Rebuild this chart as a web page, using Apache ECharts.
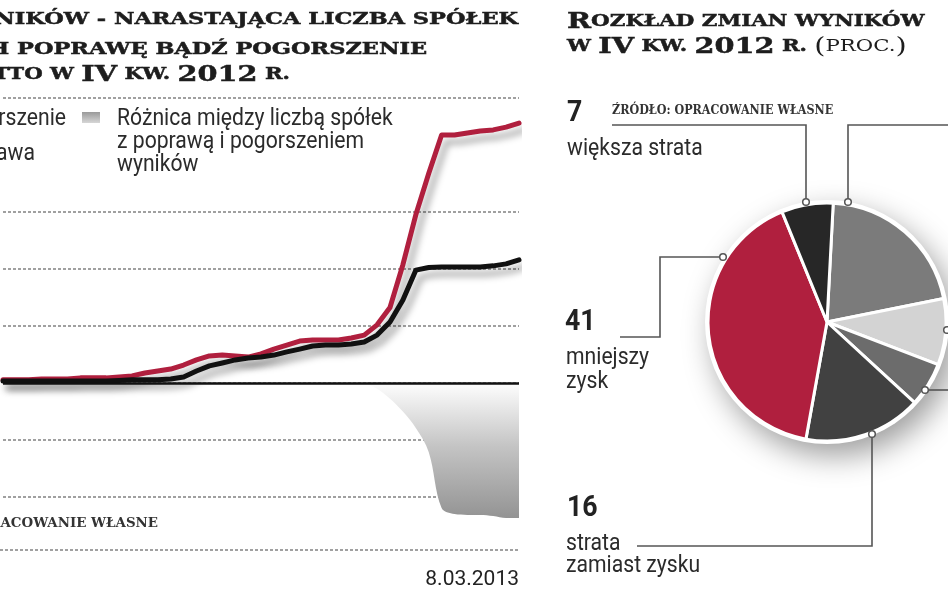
<!DOCTYPE html>
<html><head><meta charset="utf-8">
<script src="https://cdn.jsdelivr.net/npm/echarts@6/dist/echarts.min.js"></script>
<style>html,body{margin:0;padding:0;background:#fff}#c{width:948px;height:593px}</style>
</head><body><div id="c"></div>
<script>
// ---- data ----
const dates = ['27.01.2013','28.01.2013','29.01.2013','30.01.2013','31.01.2013',
  '1.02.2013','2.02.2013','3.02.2013','4.02.2013','5.02.2013','6.02.2013','7.02.2013',
  '8.02.2013','9.02.2013','10.02.2013','11.02.2013','12.02.2013','13.02.2013','14.02.2013',
  '15.02.2013','16.02.2013','17.02.2013','18.02.2013','19.02.2013','20.02.2013','21.02.2013',
  '22.02.2013','23.02.2013','24.02.2013','25.02.2013','26.02.2013','27.02.2013','28.02.2013',
  '1.03.2013','2.03.2013','3.03.2013','4.03.2013','5.03.2013','6.03.2013','7.03.2013','8.03.2013'];
const pogorszenie = [1.1,1.1,1.1,1.4,1.4,1.4,1.8,1.8,1.8,2.1,2.5,3.5,4.2,4.9,6.3,8.1,9.5,9.8,9.5,9.1,
  10.2,11.9,13.3,14.7,15.1,15.1,15.1,15.8,16.8,20.4,26.5,41.5,59.0,73.5,87.0,87.0,87.7,88.4,88.8,89.8,91.2];
const poprawa = [0.7,0.7,0.7,0.7,0.7,0.7,0.7,0.7,0.7,0.9,1.1,1.1,1.1,1.4,2.1,4.2,6.0,7.0,8.1,8.8,
  9.1,9.8,10.9,11.9,13.0,13.3,13.3,13.7,14.4,16.8,21.4,29.1,39.6,40.5,40.7,40.7,40.7,40.7,41.1,41.8,43.2];
const roznica = [0,0,0,0,0,0,0,0,0,0,0,0,0,0,0,0,0,0,0,0,0,0,0,0,0,0,0,0,
  -0.3,-2.0,-5.5,-10.0,-15.8,-24.2,-43.9,-46.0,-46.3,-46.3,-46.7,-47.4,-47.4];
const seriesNames = ['Pogorszenie','Poprawa','Różnica między liczbą spółek\nz poprawą i pogorszeniem\nwyników'];
const yTicks = {min: -60, max: 100, step: 20};

const pieNames = ['większy zysk','zysk zamiast straty','mniejsza strata','strata\nzamiast zysku','mniejszy\nzysk','większa strata'];
const pieValues = [21, 9, 6, 16, 41, 7];

// ---- styles ----
const pieColors = ['#7b7b7b','#d3d3d3','#6c6c6c','#414141','#b01f3e','#272727'];
const RED = '#b01f3e';
const SERIF = 'DejaVu Serif';
const SANS = 'Roboto';
const INK = '#1d1d1d';

function T(x, baseline, text, size, opt) {
  opt = opt || {};
  const k = opt.k == null ? 0.34 : opt.k;
  const st = {
    text: text, x: 0, y: 0,
    fontFamily: opt.family || SANS, fontWeight: opt.weight || 'normal', fontSize: size,
    fill: opt.fill || '#2b2b2b',
    align: opt.align || 'left', textAlign: opt.align || 'left',
    verticalAlign: 'middle', textVerticalAlign: 'middle'
  };
  if (opt.rich) st.rich = opt.rich;
  if (opt.stroke) { st.stroke = opt.fill || INK; st.lineWidth = opt.stroke; }
  return {type: 'text', x: x, y: baseline - k * size, scaleX: opt.sx || 1, z: 100, style: st};
}
const LINE = '#555';
function PL(points) {
  return {type: 'polyline', z: 100, shape: {points: points}, style: {stroke: LINE, lineWidth: 1.6, fill: null}};
}
function DOT(x, y) {
  return {type: 'circle', z: 101, shape: {cx: x, cy: y, r: 3.3}, style: {fill: '#fff', stroke: LINE, lineWidth: 1.5}};
}

const scSize = 17, bigSize = 23;
function rs(size, weight, lh) {
  return {fontFamily: SERIF, fontWeight: weight, fontSize: size, lineHeight: lh, fill: INK,
    stroke: weight === 'bold' ? INK : null, lineWidth: weight === 'bold' ? 0.5 : 0};
}
const richTitle = {
  sc: rs(scSize, 'bold', 17),
  big: rs(bigSize, 'bold', 23),
  pl: rs(bigSize, 'normal', 23),
  pn: rs(scSize, 'normal', 17)
};

const chart = echarts.init(document.getElementById('c'), null, {renderer: 'canvas'});
const n = dates.length;

const graphics = [
  // left title (cut on the left)
  T(518, 25, 'ZMIANY WYNIKÓW - NARASTAJĄCA LICZBA SPÓŁEK', scSize, {family: SERIF, weight: 'bold', align: 'right', sx: 1.32, k: 0.346, fill: INK, stroke: 0.5}),
  T(427, 55, 'NOTUJĄCYCH POPRAWĘ BĄDŹ POGORSZENIE', scSize, {family: SERIF, weight: 'bold', align: 'right', sx: 1.32, k: 0.346, fill: INK, stroke: 0.5}),
  T(290, 83, '{sc|ZYSKU NETTO W }{big|IV}{sc| KW. }{big|2012}{sc| R.}', bigSize, {family: SERIF, weight: 'bold', align: 'right', sx: 1.25, k: 0.346, rich: richTitle}),
  // right title
  T(567, 30, '{big|R}{sc|OZKŁAD ZMIAN WYNIKÓW}', bigSize, {family: SERIF, weight: 'bold', sx: 1.26, k: 0.346, rich: richTitle}),
  T(567, 55, '{sc|W }{big|IV}{sc| KW. }{big|2012}{sc| R. }{pl|(}{pn|PROC.}{pl|)}', bigSize, {family: SERIF, weight: 'bold', sx: 1.25, k: 0.346, rich: richTitle}),
  // sources
  T(158, 528, 'ŹRÓDŁO: OPRACOWANIE WŁASNE', 12.5, {family: SERIF, weight: 'bold', align: 'right', sx: 1.07, k: 0.346, fill: '#333'}),
  T(612, 115, 'ŹRÓDŁO: OPRACOWANIE WŁASNE', 12, {family: SERIF, weight: 'bold', sx: 0.93, k: 0.346, fill: '#333'}),
  {type: 'line', z: 5, shape: {x1: 0, y1: 550, x2: 519, y2: 550}, style: {stroke: '#a0a0a0', lineWidth: 2, lineDash: [3, 2]}},
  // legend
  T(66, 127, seriesNames[0], 23, {align: 'right', sx: 0.92}),
  T(35, 162, seriesNames[1], 23, {align: 'right', sx: 0.92}),
  {type: 'rect', z: 100, shape: {x: 82, y: 112, width: 18, height: 11},
    style: {fill: new echarts.graphic.LinearGradient(0, 0, 0, 1, [{offset: 0, color: '#9a9a9a'}, {offset: 1, color: '#d6d6d6'}])}},
  {type: 'text', x: 117, y: 107.7, scaleX: 0.92, z: 100,
    style: {text: seriesNames[2], x: 0, y: 0, fontFamily: SANS, fontSize: 23, fill: '#2b2b2b', lineHeight: 23,
      align: 'left', textAlign: 'left', verticalAlign: 'top', textVerticalAlign: 'top'}},
  // pie shadow disc
  {type: 'circle', z: 0, shape: {cx: 827, cy: 322, r: 122},
    style: {fill: '#fff', shadowBlur: 30, shadowOffsetX: 8, shadowOffsetY: 12, shadowColor: 'rgba(0,0,0,0.38)'}},
  // callouts
  PL([[612, 125], [806, 125], [806, 199]]), DOT(806, 202),
  PL([[848, 199], [848, 125], [960, 125]]), DOT(848, 202),
  PL([[620, 337], [660, 337], [660, 257], [720, 257]]), DOT(723, 257),
  PL([[637, 546], [872, 546], [872, 437]]), DOT(872, 434),
  PL([[929, 390], [960, 390]]), DOT(925, 390),
  DOT(947, 330),
  // pie labels
  T(567, 124, String(pieValues[5]), 29, {weight: 'bold', sx: 0.92, fill: '#222'}),
  T(567, 157, pieNames[5], 23, {sx: 0.92}),
  T(565, 333, String(pieValues[4]), 29, {weight: 'bold', sx: 0.92, fill: '#222'}),
  {type: 'text', x: 566, y: 345.8, scaleX: 0.92, z: 100,
    style: {text: pieNames[4], x: 0, y: 0, fontFamily: SANS, fontSize: 23, fill: '#2b2b2b', lineHeight: 24,
      align: 'left', textAlign: 'left', verticalAlign: 'top', textVerticalAlign: 'top'}},
  T(567, 519, String(pieValues[3]), 29, {weight: 'bold', sx: 0.92, fill: '#222'}),
  {type: 'text', x: 566, y: 533, scaleX: 0.92, z: 100,
    style: {text: pieNames[3], x: 0, y: 0, fontFamily: SANS, fontSize: 23, fill: '#2b2b2b', lineHeight: 22,
      align: 'left', textAlign: 'left', verticalAlign: 'top', textVerticalAlign: 'top'}}
];

const gridColors = ['rgba(0,0,0,0)', '#a0a0a0', '#a0a0a0', '#a0a0a0', '#a0a0a0', '#a0a0a0', '#a0a0a0', 'rgba(0,0,0,0)', '#a0a0a0'];

chart.setOption({
  animation: false,
  backgroundColor: '#fff',
  graphic: graphics,
  grid: {left: 0, right: 948 - 519, top: 98, bottom: 593 - 554, containLabel: false},
  xAxis: {
    type: 'category', data: dates, boundaryGap: false,
    axisLine: {show: false}, axisTick: {show: false}, splitLine: {show: false},
    axisLabel: {interval: 0, margin: 15, fontFamily: SANS, fontSize: 21, color: '#222',
      alignMaxLabel: 'right', showMaxLabel: true,
      formatter: function (v, i) { return i === n - 1 ? v : ''; }}
  },
  yAxis: {
    type: 'value', min: yTicks.min, max: yTicks.max, interval: yTicks.step,
    axisLine: {show: false}, axisTick: {show: false}, axisLabel: {show: false},
    splitLine: {show: true, lineStyle: {color: gridColors, type: [3, 2], width: 2}}
  },
  series: [
    {
      name: seriesNames[2], type: 'line', data: roznica, symbol: 'none', smooth: 0.35,
      lineStyle: {width: 0},
      areaStyle: {color: new echarts.graphic.LinearGradient(0, 386, 0, 520,
        [{offset: 0, color: '#fbfbfb'}, {offset: 0.45, color: '#c4c4c4'}, {offset: 1, color: '#929292'}], true), opacity: 1},
      z: 1, silent: true
    },
    {
      name: seriesNames[0], type: 'line', data: pogorszenie, symbol: 'none', z: 3,
      lineStyle: {color: RED, width: 5, join: 'round', cap: 'round',
        shadowColor: 'rgba(0,0,0,0.35)', shadowBlur: 7, shadowOffsetX: 5, shadowOffsetY: 7}
    },
    {
      name: seriesNames[1], type: 'line', data: poprawa, symbol: 'none', z: 4,
      lineStyle: {color: '#111', width: 5, join: 'round', cap: 'round',
        shadowColor: 'rgba(0,0,0,0.35)', shadowBlur: 7, shadowOffsetX: 5, shadowOffsetY: 7},
      markLine: {silent: true, symbol: 'none', label: {show: false},
        lineStyle: {color: '#111', width: 2.5, type: 'solid'}, data: [{yAxis: 0}]}
    },
    {
      name: 'Rozkład', type: 'pie', center: [827, 322], radius: 119, startAngle: 87, clockwise: true,
      z: 2, silent: true, label: {show: false}, labelLine: {show: false}, emphasis: {disabled: true},
      itemStyle: {borderColor: '#fff', borderWidth: 3},
      data: pieNames.map(function (nm, i) { return {name: nm, value: pieValues[i], itemStyle: {color: pieColors[i]}}; })
    }
  ]
});
</script>
</body></html>
